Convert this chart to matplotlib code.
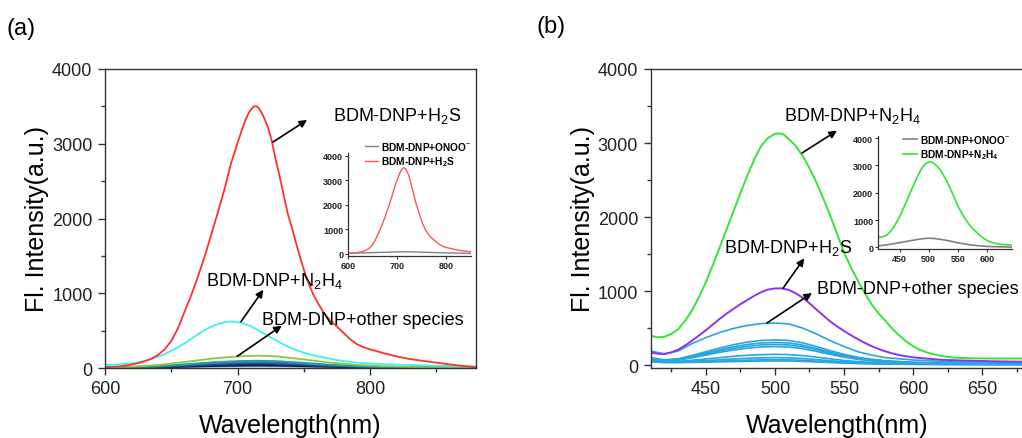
import matplotlib
matplotlib.use('Agg')
import matplotlib.pyplot as plt
from matplotlib.ticker import MultipleLocator

plt.rcParams['font.family'] = ['Liberation Sans', 'DejaVu Sans']
plt.rcParams['mathtext.fontset'] = 'custom'
plt.rcParams['mathtext.rm'] = 'Liberation Sans'
plt.rcParams['mathtext.it'] = 'Liberation Sans:italic'
plt.rcParams['mathtext.bf'] = 'Liberation Sans:bold'

# ---------------- panel (a) data ----------------
wl_red = [600, 605, 610, 615, 620, 625, 630, 635, 640, 645, 650, 655, 660, 665, 670,
          675, 680, 685, 690, 695, 700, 703, 706, 709, 712, 714, 716, 718, 720, 723,
          726, 729, 732, 735, 738, 741, 745, 748, 752, 757, 760, 765, 770, 775, 780,
          785, 790, 795, 800, 805, 810, 820, 830, 840, 850, 860, 870, 880]
h2s_a = [10, 14, 20, 30, 45, 65, 90, 125, 175, 250, 360, 530, 750, 970, 1215,
         1480, 1775, 2070, 2380, 2730, 3010, 3170, 3320, 3430, 3495, 3505, 3478, 3420, 3350, 3220,
         3030, 2773, 2550, 2300, 2060, 1880, 1620, 1436, 1210, 990, 890, 740, 635, 555, 470,
         385, 320, 278, 250, 225, 200, 155, 120, 95, 72, 48, 28, 10]

wl_cyan = [600, 605, 610, 615, 620, 625, 630, 635, 640, 645, 650, 655, 660, 665, 670,
           675, 680, 685, 690, 695, 700, 705, 710, 715, 720, 725, 730, 735, 740, 745,
           750, 755, 760, 770, 780, 790, 800, 820, 840, 860, 880]
n2h4_a = [40, 43, 48, 54, 62, 76, 95, 120, 150, 187, 230, 278, 330, 390, 450,
          505, 550, 588, 612, 623, 615, 592, 560, 512, 460, 410, 360, 313, 270, 235,
          205, 180, 160, 122, 92, 73, 60, 45, 35, 27, 20]

wl_small = [600, 620, 640, 660, 680, 700, 715, 730, 750, 770, 790, 810, 840, 880]
others_a = [
    [1, 3, 6, 11, 16, 20, 21, 20, 15, 10, 6, 3, 2, 1],
    [2, 4, 8, 16, 25, 30, 32, 30, 23, 15, 9, 5, 3, 1],
    [2, 6, 12, 24, 37, 45, 48, 45, 34, 22, 13, 7, 4, 1],
    [3, 8, 16, 32, 50, 61, 64, 60, 46, 29, 17, 10, 5, 2],
    [4, 10, 20, 40, 62, 76, 80, 75, 57, 36, 21, 12, 6, 2],
    [5, 12, 25, 50, 76, 93, 98, 92, 70, 44, 26, 15, 7, 3],
    [8, 18, 40, 80, 125, 155, 165, 155, 115, 72, 42, 24, 10, 4],
]
others_a_colors = ['#a8cdef', '#0d1b3e', '#1b2f6b', '#1f4e9c', '#2a7ab0', '#20a39e', '#8dc63f']

wl_gray_a = [600, 640, 670, 700, 715, 730, 760, 800, 850]
onoo_a = [15, 30, 50, 68, 72, 68, 50, 25, 10]

# ---------------- panel (b) data ----------------
wl_green = [410, 415, 420, 425, 430, 435, 440, 445, 450, 455, 460, 465, 470, 475, 480,
            485, 490, 495, 500, 503, 506, 510, 515, 520, 525, 530, 535, 540, 545, 550,
            555, 560, 565, 570, 575, 580, 585, 590, 595, 600, 605, 610, 615, 620, 625,
            630, 640, 650, 660, 680]
n2h4_b = [396, 375, 382, 420, 486, 600, 740, 920, 1120, 1350, 1590, 1835, 2080, 2325, 2560,
          2780, 2960, 3070, 3122, 3130, 3118, 3055, 2960, 2830, 2660, 2470, 2250, 2020, 1770, 1523,
          1320, 1140, 975, 820, 700, 595, 490, 400, 320, 255, 205, 170, 145, 125, 110,
          100, 92, 89, 88, 88]

wl_purple = [410, 415, 420, 425, 430, 435, 440, 445, 450, 455, 460, 465, 470, 475, 480,
             485, 490, 495, 500, 505, 510, 515, 520, 525, 530, 535, 540, 545, 550, 555,
             560, 565, 570, 575, 580, 585, 590, 595, 600, 610, 620, 640, 660, 680]
h2s_b = [170, 152, 150, 172, 210, 265, 330, 400, 470, 548, 625, 695, 760, 822, 880,
         935, 985, 1020, 1035, 1036, 1015, 970, 910, 835, 750, 670, 590, 522, 460, 403,
         350, 300, 255, 218, 185, 157, 135, 118, 105, 86, 72, 58, 50, 45]

wl_blue = [410, 420, 430, 440, 450, 460, 470, 480, 490, 500, 510, 520, 530, 540, 550,
           560, 570, 580, 600, 620, 650, 680]
others_b = [
    [190, 150, 190, 290, 370, 440, 495, 535, 560, 568, 555, 500, 420, 330, 250, 180, 135, 100, 68, 50, 42, 36],
    [100, 70, 85, 130, 180, 230, 275, 310, 332, 340, 332, 300, 250, 195, 145, 105, 78, 58, 38, 28, 22, 20],
    [95, 65, 78, 118, 162, 207, 247, 278, 298, 305, 298, 270, 225, 175, 130, 95, 70, 52, 34, 25, 20, 18],
    [85, 60, 72, 108, 148, 190, 226, 254, 272, 278, 272, 246, 205, 160, 118, 86, 63, 47, 31, 23, 18, 16],
    [80, 55, 66, 98, 134, 171, 203, 228, 244, 250, 244, 221, 184, 144, 106, 77, 57, 42, 28, 21, 16, 14],
    [70, 45, 50, 65, 82, 100, 118, 132, 141, 145, 141, 128, 107, 84, 62, 46, 35, 27, 19, 15, 12, 11],
    [60, 40, 42, 50, 60, 71, 82, 91, 97, 100, 97, 88, 74, 58, 44, 33, 26, 20, 14, 11, 9, 8],
    [55, 38, 38, 42, 48, 54, 61, 66, 70, 72, 70, 64, 54, 43, 33, 25, 20, 16, 11, 9, 7, 6],
    [45, 32, 32, 35, 39, 43, 47, 51, 54, 55, 54, 49, 42, 34, 26, 20, 16, 13, 9, 7, 6, 5],
]

wl_gray_b = [413, 430, 450, 470, 490, 500, 510, 530, 550, 570, 590, 610, 643]
onoo_b = [50, 100, 170, 250, 320, 335, 325, 260, 170, 95, 50, 25, 12]

RED = '#ff3030'
CYAN = '#3ff0f0'
GREEN = '#33e633'
PURPLE = '#9030f0'
BLUE = '#2aa5dd'

W, H = 1022, 439
fig = plt.figure(figsize=(W / 100, H / 100), dpi=100)


def rect(x0, y0, x1, y1):
    return [x0 / W, 1 - y1 / H, (x1 - x0) / W, (y1 - y0) / H]


def style_main(ax):
    for s in ax.spines.values():
        s.set_color('#333333')
        s.set_linewidth(1.0)
    ax.tick_params(which='major', direction='out', length=5, width=1, labelsize=13,
                   top=False, right=False, pad=4, colors='#333333', labelcolor='#222222')
    ax.tick_params(which='minor', direction='out', length=3, width=1,
                   top=False, right=False, colors='#333333')
    ax.set_ylabel('Fl. Intensity(a.u.)', fontsize=18, labelpad=2)
    ax.set_xlabel('Wavelength(nm)', fontsize=18, labelpad=11)


def style_inset(ax):
    ax.spines['top'].set_visible(False)
    ax.spines['right'].set_visible(False)
    for s in ['left', 'bottom']:
        ax.spines[s].set_color('#333333')
        ax.spines[s].set_linewidth(0.9)
    ax.tick_params(direction='out', length=2.5, width=0.8, labelsize=6.5, pad=1,
                   colors='#333333', labelcolor='#222222')
    for lab in ax.get_xticklabels() + ax.get_yticklabels():
        lab.set_fontweight('bold')
    ax.patch.set_alpha(0)


arrow = dict(arrowstyle='-|>', color='black', lw=1.2, mutation_scale=11, shrinkA=0, shrinkB=0)

# ---------------- panel (a) ----------------
ax1 = fig.add_axes(rect(105, 70, 476, 369))
for ys, c in zip(others_a, others_a_colors):
    ax1.plot(wl_small, ys, color=c, lw=1.3)
ax1.plot(wl_cyan, n2h4_a, color=CYAN, lw=1.3)
ax1.plot(wl_red, h2s_a, color=RED, lw=1.3)
ax1.set_xlim(600, 880)
ax1.set_ylim(0, 4000)
ax1.xaxis.set_major_locator(MultipleLocator(100))
ax1.xaxis.set_minor_locator(MultipleLocator(50))
ax1.yaxis.set_major_locator(MultipleLocator(1000))
ax1.yaxis.set_minor_locator(MultipleLocator(500))
style_main(ax1)

ax1.annotate('', xy=(752.5, 3318), xytext=(726.8, 3023), arrowprops=arrow)
ax1.text(772, 3385, 'BDM-DNP+H$_2$S', fontsize=13, va='center', ha='left')
ax1.annotate('', xy=(719.5, 1047), xytext=(702.6, 619), arrowprops=arrow)
ax1.text(676, 1177, 'BDM-DNP+N$_2$H$_4$', fontsize=13, va='center', ha='left')
ax1.annotate('', xy=(733.4, 566), xytext=(699.8, 157), arrowprops=arrow)
ax1.text(718.5, 646, 'BDM-DNP+other species', fontsize=13, va='center', ha='left')

fig.text(6 / W, 1 - 29 / H, '(a)', fontsize=17, va='center', ha='left')

ins1 = fig.add_axes(rect(348, 154, 471, 257))
ins1.plot(wl_gray_a, onoo_a, color='#808080', lw=1.0, label='BDM-DNP+ONOO$^{-}$')
ins1.plot(wl_red, h2s_a, color='#ff5555', lw=1.0, label='BDM-DNP+H$_\\mathbf{2}$S')
ins1.set_xlim(600, 850)
ins1.set_ylim(-100, 4110)
ins1.set_xticks([600, 700, 800])
ins1.set_yticks([0, 1000, 2000, 3000, 4000])
style_inset(ins1)
ins1.legend(loc='upper left', bbox_to_anchor=(0.14, 1.13), frameon=False,
            prop={'weight': 'bold', 'size': 7.3}, handlelength=1.3, handletextpad=0.3,
            borderpad=0, borderaxespad=0, labelspacing=0.3)

# ---------------- panel (b) ----------------
ax2 = fig.add_axes(rect(650.7, 70, 1023.5, 369))
for ys in others_b:
    ax2.plot(wl_blue, ys, color=BLUE, lw=1.2)
ax2.plot(wl_purple, h2s_b, color=PURPLE, lw=1.4)
ax2.plot(wl_green, n2h4_b, color=GREEN, lw=1.4)
ax2.set_xlim(410, 680)
ax2.set_ylim(-40, 4000)
ax2.xaxis.set_major_locator(MultipleLocator(50))
ax2.xaxis.set_minor_locator(MultipleLocator(25))
ax2.yaxis.set_major_locator(MultipleLocator(1000))
ax2.yaxis.set_minor_locator(MultipleLocator(500))
style_main(ax2)

ax2.annotate('', xy=(544.9, 3166), xytext=(519.6, 2865), arrowprops=arrow)
ax2.text(506.2, 3383, 'BDM-DNP+N$_2$H$_4$', fontsize=13, va='center', ha='left')
ax2.annotate('', xy=(521.2, 1442), xytext=(505.8, 1037), arrowprops=arrow)
ax2.text(463.3, 1591, 'BDM-DNP+H$_2$S', fontsize=13, va='center', ha='left')
ax2.annotate('', xy=(526.8, 973), xytext=(494.2, 568), arrowprops=arrow)
ax2.text(530.4, 1037, 'BDM-DNP+other species', fontsize=13, va='center', ha='left',
         clip_on=False)

fig.text(536 / W, 1 - 27 / H, '(b)', fontsize=17, va='center', ha='left')

ins2 = fig.add_axes(rect(878, 137, 1012, 250))
ins2.plot(wl_gray_b, onoo_b, color='#808080', lw=1.2, label='BDM-DNP+ONOO$^{-}$')
ins2.plot(wl_green, n2h4_b, color=GREEN, lw=1.2,
          label='BDM-DNP+N$_\\mathbf{2}$H$_\\mathbf{4}$')
ins2.set_xlim(413, 643)
ins2.set_ylim(-60, 4080)
ins2.set_xticks([450, 500, 550, 600])
ins2.set_yticks([0, 1000, 2000, 3000, 4000])
style_inset(ins2)
ins2.legend(loc='upper left', bbox_to_anchor=(0.19, 1.03), frameon=False,
            prop={'weight': 'bold', 'size': 7.3}, handlelength=1.3, handletextpad=0.3,
            borderpad=0, borderaxespad=0, labelspacing=0.3)

fig.savefig('out.png', dpi=100)
